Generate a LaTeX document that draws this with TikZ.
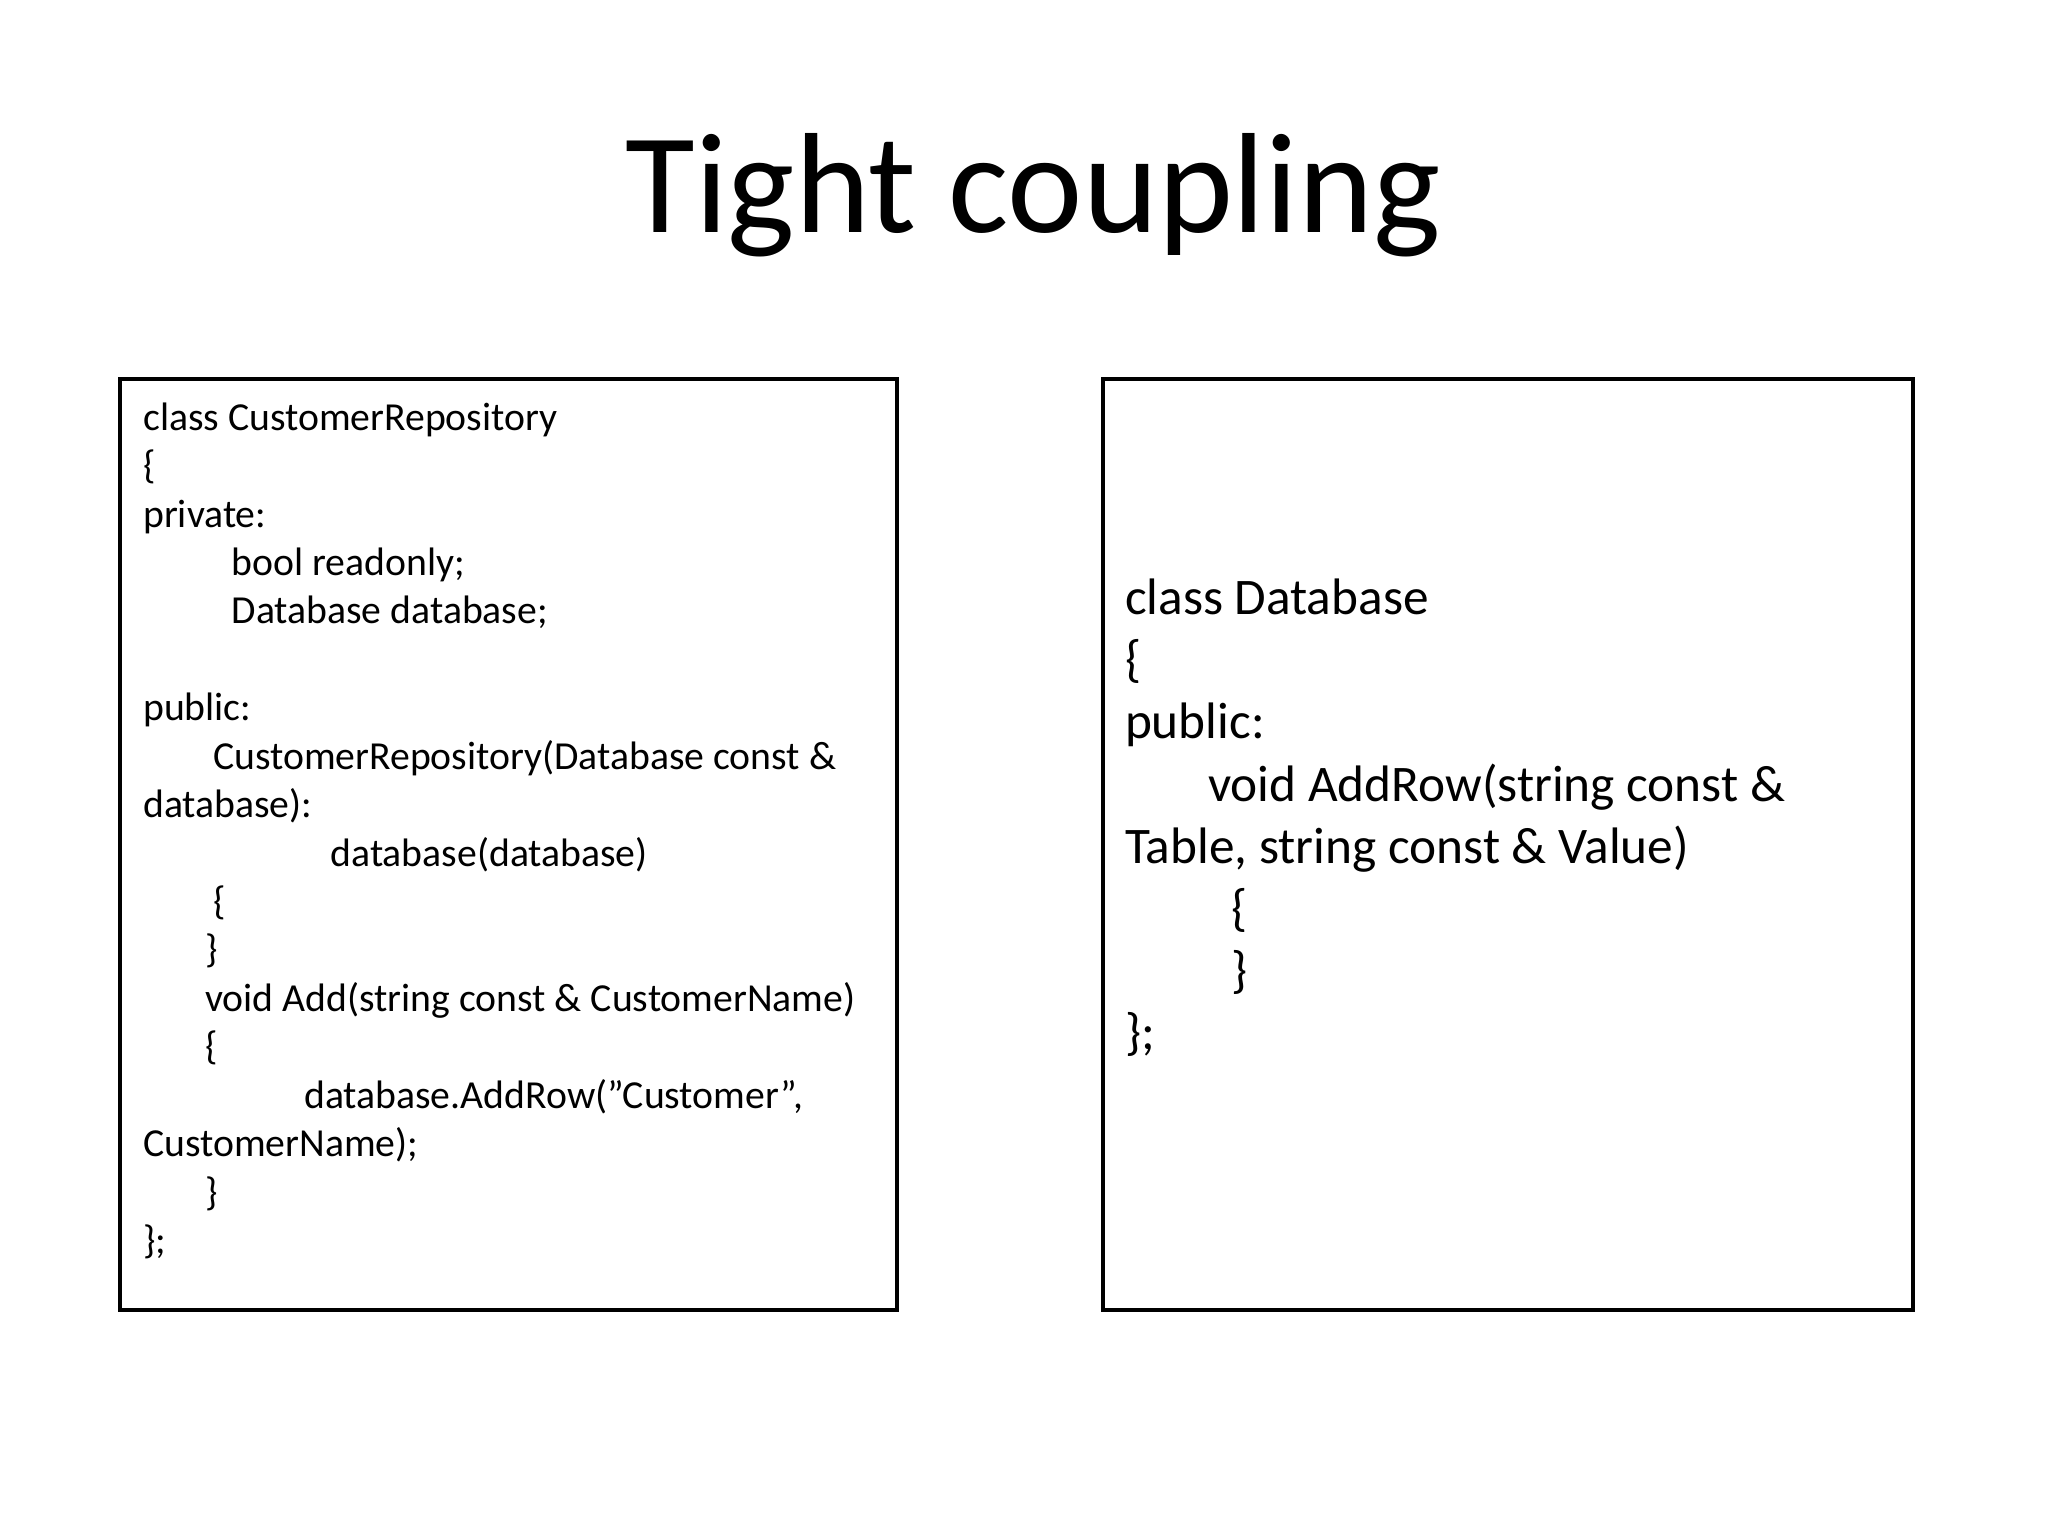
\documentclass[tikz,border=0pt]{standalone}
\usepackage{fontspec}
\setmainfont{Carlito}
\begin{document}
\begin{tikzpicture}[x=0.013196cm,y=-0.013196cm,
  box/.style={draw,line width=1.1pt},
  lt/.style={anchor=base west,inner sep=0pt,font=\fontsize{11.3}{13}\selectfont},
  rt/.style={anchor=base west,inner sep=0pt,font=\fontsize{14.6}{17}\selectfont}]
\useasboundingbox (0,0) rectangle (1552,1164);
\node[font=\fontsize{40.6}{44}\selectfont,inner sep=0pt] (title) at (783,148) {Tight coupling};
\draw[box] (91,287) rectangle (680,993);
\draw[box] (836,287) rectangle (1450,993);
\node[lt] (l0) at (108,326.0) {class CustomerRepository};
\node[lt] (l1) at (108,362.7) {\{};
\node[lt] (l2) at (108,399.4) {private:};
\node[lt] (l3) at (175,436.1) {bool readonly;};
\node[lt] (l4) at (175,472.8) {Database database;};
\node[lt] (l6) at (108,546.2) {public:};
\node[lt] (l7) at (161,582.9) {CustomerRepository(Database const \&};
\node[lt] (l8) at (108,619.6) {database):};
\node[lt] (l9) at (250,656.3) {database(database)};
\node[lt] (l10) at (161,693.0) {\{};
\node[lt] (l11) at (155,729.7) {\}};
\node[lt] (l12) at (155,766.4) {void Add(string const \& CustomerName)};
\node[lt] (l13) at (155,803.1) {\{};
\node[lt] (l14) at (230,839.8) {database.AddRow("Customer",};
\node[lt] (l15) at (108,876.5) {CustomerName);};
\node[lt] (l16) at (155,913.2) {\}};
\node[lt] (l17) at (108,949.9) {\};};
\node[rt] (r0) at (852,466) {class Database};
\node[rt] (r1) at (852,513) {\{};
\node[rt] (r2) at (852,560) {public:};
\node[rt] (r3) at (915,607) {void AddRow(string const \&};
\node[rt] (r4) at (852,654) {Table, string const \& Value)};
\node[rt] (r5) at (933,701) {\{};
\node[rt] (r6) at (933,748) {\}};
\node[rt] (r7) at (852,795) {\};};
\end{tikzpicture}
\end{document}
